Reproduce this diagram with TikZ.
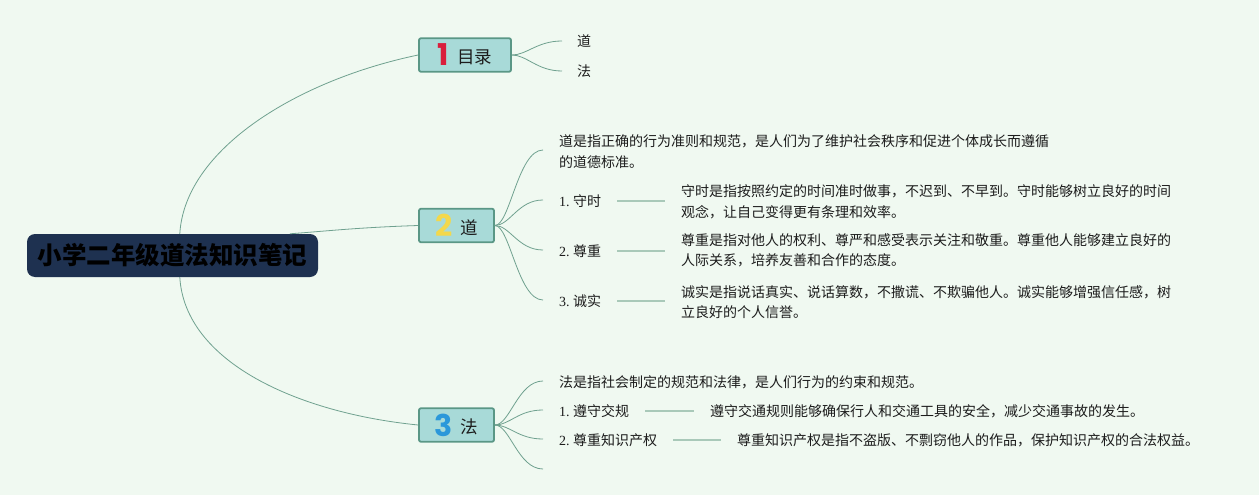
\documentclass[tikz,border=0pt]{standalone}
\usepackage{fontspec}
\setmainfont{Noto Sans CJK SC}
\newfontfamily\numserif{Liberation Serif}
\newfontfamily\numsans{Poppins}
\usetikzlibrary{calc}
\definecolor{bgcol}{HTML}{F0F9F1}
\definecolor{navy}{HTML}{1E3150}
\definecolor{boxfill}{HTML}{A8DAD8}
\definecolor{boxedge}{HTML}{5A9786}
\definecolor{conncol}{HTML}{6FA18F}
\definecolor{tiecol}{HTML}{A9C9B9}
\definecolor{numred}{HTML}{D91E3C}
\definecolor{numyellow}{HTML}{F3D84B}
\definecolor{numblue}{HTML}{2B98DA}
\definecolor{txt}{HTML}{1C1C1C}
\newcommand\bnum[2]{{\numsans\fontsize{30}{30}\selectfont\bfseries\color{#1}\raisebox{-1pt}{#2}}}
\newcommand\sn[1]{{\numserif #1}\hspace{3.5pt}}
\begin{document}
\begin{tikzpicture}[x=1pt,y=-1pt,
  rootbox/.style={fill=navy, rounded corners=8pt, minimum width=291pt, minimum height=43pt,
    inner sep=0pt, text=black, font=\fontsize{24.5}{24.5}\selectfont\bfseries},
  branchbox/.style={fill=boxfill, draw=boxedge, line width=1.8pt, rounded corners=2pt,
    inner sep=0pt, minimum height=33.5pt, text=txt, font=\fontsize{17.5}{17.5}\selectfont},
  leaf/.style={anchor=west, inner sep=0pt, align=left, text=txt,
    font=\fontsize{14}{20.5}\selectfont},
  conn/.style={draw=conncol, line width=0.8pt},
  tie/.style={draw=tiecol, line width=1.6pt, shorten <=16pt, shorten >=16pt}
]
\fill[bgcol] (0,0) rectangle (1259,495);
\useasboundingbox (0,0) rectangle (1259,495);

% root and branches
\node[rootbox] (root) at (172.5,255.5) {小学二年级道法知识笔记};
\node[branchbox, minimum width=92pt] (b1) at (465,55) {\bnum{numred}{1}\hspace{8pt}\raisebox{1.5pt}{目录}};
\node[branchbox, minimum width=75pt] (b2) at (456.5,225.5) {\bnum{numyellow}{2}\hspace{8pt}\raisebox{1.5pt}{道}};
\node[branchbox, minimum width=75pt] (b3) at (456.5,425) {\bnum{numblue}{3}\hspace{8pt}\raisebox{1.5pt}{法}};

\coordinate (r1) at ($(root.north west)+(153,0)$);
\coordinate (r2) at ($(root.north west)+(263,0)$);
\coordinate (r3) at ($(root.south west)+(153,0)$);
\draw[conn] (r1) .. controls +(5,-85) and +(-120,25) .. (b1.west);
\draw[conn] (r2) .. controls +(40,-3) and +(-60,2) .. (b2.west);
\draw[conn] (r3) .. controls +(5,85) and +(-120,-12) .. (b3.west);

% branch 1
\node[leaf] (t1a) at (577,41) {道};
\node[leaf] (t1b) at (577,71) {法};
\draw[conn] (b1.east) .. controls +(15,0) and +(-25,0) .. ($(t1a.west)+(-15,0)$);
\draw[conn] (b1.east) .. controls +(15,0) and +(-25,0) .. ($(t1b.west)+(-15,0)$);

% branch 2
\node[leaf] (p2) at (559,151.5) {道是指正确的行为准则和规范，是人们为了维护社会秩序和促进个体成长而遵循\\的道德标准。};
\node[leaf] (s1) at (559,201) {\sn{1.}守时};
\node[leaf] (d1) at (681,202) {守时是指按照约定的时间准时做事，不迟到、不早到。守时能够树立良好的时间\\观念，让自己变得更有条理和效率。};
\node[leaf] (s2) at (559,251) {\sn{2.}尊重};
\node[leaf] (d2) at (681,250.5) {尊重是指对他人的权利、尊严和感受表示关注和敬重。尊重他人能够建立良好的\\人际关系，培养友善和合作的态度。};
\node[leaf] (s3) at (559,301) {\sn{3.}诚实};
\node[leaf] (d3) at (681,302) {诚实是指说话真实、说话算数，不撒谎、不欺骗他人。诚实能够增强信任感，树\\立良好的个人信誉。};
\foreach \n/\dy in {p2/-1.5,s1/-1,s2/-1,s3/-1}
  \draw[conn] (b2.east) .. controls +(15,0) and +(-25,0) .. ($(\n.west)+(-16,\dy)$);
\draw[tie] (s1.east) -- (s1.east -| d1.west);
\draw[tie] (s2.east) -- (s2.east -| d2.west);
\draw[tie] (s3.east) -- (s3.east -| d3.west);

% branch 3
\node[leaf] (p3) at (559,382) {法是指社会制定的规范和法律，是人们行为的约束和规范。};
\node[leaf] (s4) at (559,411) {\sn{1.}遵守交规};
\node[leaf] (d4) at (710,411) {遵守交通规则能够确保行人和交通工具的安全，减少交通事故的发生。};
\node[leaf] (s5) at (559,440) {\sn{2.}尊重知识产权};
\node[leaf] (d5) at (737,440) {尊重知识产权是指不盗版、不剽窃他人的作品，保护知识产权的合法权益。};
\coordinate (e3) at (543,469);
\foreach \n in {p3,s4,s5}
  \draw[conn] (b3.east) .. controls +(15,0) and +(-25,0) .. ($(\n.west)+(-16,-1)$);
\draw[conn] (b3.east) .. controls +(15,0) and +(-25,0) .. (e3);
\draw[tie] (s4.east) -- (s4.east -| d4.west);
\draw[tie] (s5.east) -- (s5.east -| d5.west);
\end{tikzpicture}
\end{document}
